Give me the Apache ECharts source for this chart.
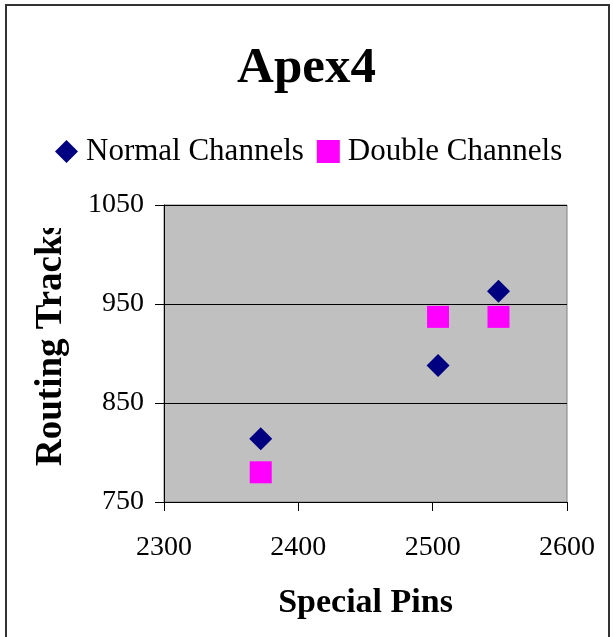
<!DOCTYPE html>
<html>
<head>
<meta charset="utf-8">
<script src="https://cdn.jsdelivr.net/npm/echarts@6/dist/echarts.min.js"></script>
<style>
  html, body { margin: 0; padding: 0; background: #fff; }
  #chart { width: 613px; height: 637px; }
</style>
</head>
<body>
<div id="chart"></div>
<script>
// Apex4: routing tracks needed vs. special pins
const seriesNames = ['Normal Channels', 'Double Channels'];
const normalPins = [2372, 2504, 2549];
const normalTracks = [814, 888, 963];
const doublePins = [2372, 2504, 2549];
const doubleTracks = [780, 937, 937];
const xTicks = { min: 2300, max: 2600, step: 100 };
const yTicks = { min: 750, max: 1050, step: 100 };

const serif = '"Liberation Serif", "Times New Roman", serif';

function pairs(xs, ys) {
  return xs.map((x, i) => [x, ys[i]]);
}

const plain = (v) => String(v);

const chart = echarts.init(document.getElementById('chart'), null, { renderer: 'canvas' });

chart.setOption({
  backgroundColor: '#ffffff',
  animation: false,
  title: {
    text: 'Apex4',
    left: 'center',
    top: 38,
    textStyle: { fontFamily: serif, fontWeight: 'bold', fontSize: 51, color: '#000' }
  },
  legend: {
    left: 50,
    top: 131,
    itemWidth: 23,
    itemHeight: 23,
    itemGap: 13,
    data: [
      { name: seriesNames[0], icon: 'diamond' },
      { name: seriesNames[1], icon: 'rect' }
    ],
    textStyle: { fontFamily: serif, fontSize: 31, color: '#000', padding: [0, 0, 0, 3] }
  },
  grid: {
    left: 164,
    top: 205,
    width: 403,
    height: 297,
    show: true,
    backgroundColor: '#c0c0c0',
    borderColor: '#808080',
    borderWidth: 1
  },
  xAxis: {
    type: 'value',
    min: xTicks.min,
    max: xTicks.max,
    interval: xTicks.step,
    name: 'Special Pins',
    nameLocation: 'middle',
    nameGap: 84,
    nameTextStyle: { fontFamily: serif, fontWeight: 'bold', fontSize: 34, color: '#000' },
    axisLine: { show: true, lineStyle: { color: '#000', width: 1 } },
    axisTick: { show: true, inside: false, length: 9, lineStyle: { color: '#000' } },
    axisLabel: { fontFamily: serif, fontSize: 28, color: '#000', margin: 32, formatter: plain },
    splitLine: { show: false }
  },
  yAxis: {
    type: 'value',
    min: yTicks.min,
    max: yTicks.max,
    interval: yTicks.step,
    name: 'Routing Tracks',
    nameLocation: 'middle',
    nameGap: 94,
    nameTextStyle: { fontFamily: serif, fontWeight: 'bold', fontSize: 37, color: '#000', padding: [0, 0, 0, 20] },
    axisLine: { show: true, lineStyle: { color: '#000', width: 1 } },
    axisTick: { show: true, inside: false, length: 9, lineStyle: { color: '#000' } },
    axisLabel: { fontFamily: serif, fontSize: 28, color: '#000', margin: 20, padding: [6, 0, 0, 0], formatter: plain },
    splitLine: { show: true, lineStyle: { color: '#000', width: 1 } }
  },
  series: [
    {
      name: seriesNames[0],
      type: 'scatter',
      symbol: 'diamond',
      symbolSize: 23,
      itemStyle: { color: '#000080', opacity: 1 },
      data: pairs(normalPins, normalTracks)
    },
    {
      name: seriesNames[1],
      type: 'scatter',
      symbol: 'rect',
      symbolSize: 22,
      itemStyle: { color: '#ff00ff', opacity: 1 },
      data: pairs(doublePins, doubleTracks)
    }
  ],
  graphic: [
    // the y-axis title is cut off at the top edge of its text box
    {
      type: 'rect',
      z: 100,
      shape: { x: 20, y: 170, width: 55, height: 58 },
      style: { fill: '#ffffff' }
    },
    // outer chart border
    {
      type: 'rect',
      z: 101,
      shape: { x: 6, y: 5, width: 603, height: 640 },
      style: { fill: 'none', stroke: '#333333', lineWidth: 2 }
    }
  ]
});
</script>
</body>
</html>
